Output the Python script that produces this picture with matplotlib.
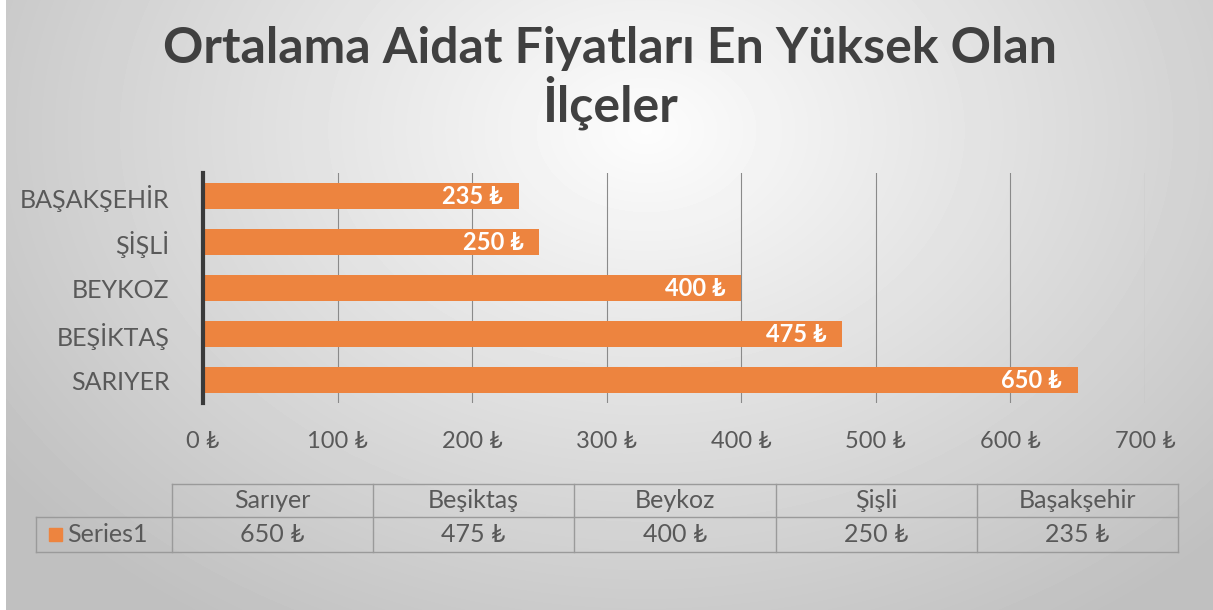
import matplotlib.pyplot as plt
import numpy as np

# Data
districts = ['Sarıyer', 'Beşiktaş', 'Beykoz', 'Şişli', 'Başakşehir']
labels_upper = ['SARIYER', 'BEŞİKTAŞ', 'BEYKOZ', 'ŞİŞLİ', 'BAŞAKŞEHİR']
fees = [650, 475, 400, 250, 235]
series_name = 'Series1'
xticks = [0, 100, 200, 300, 400, 500, 600, 700]

title = 'Ortalama Aidat Fiyatları En Yüksek Olan\nİlçeler'

plt.rcParams['font.family'] = ['Lato', 'DejaVu Sans']
txt = '#595959'
bar_col = '#ED843F'
W, H = 1213, 610

fig = plt.figure(figsize=(W/100, H/100), dpi=100)
fig.patch.set_facecolor('white')

# radial gray background
bg = fig.add_axes([6/W, 0, 1-6/W, 1])
yy, xx = np.mgrid[0:H, 0:W-6]
r = np.sqrt(((xx-640)/700.0)**2 + ((yy-130)/520.0)**2)
shade = np.clip(0.99 - 0.21*r, 0.75, 1.0)
bg.imshow(shade, cmap='gray', vmin=0, vmax=1, aspect='auto')
bg.axis('off')

# Bar chart
ax = fig.add_axes([203/W, 1-403/H, (1145-203)/W, (403-173)/H])
ax.patch.set_alpha(0)
ypos = np.arange(len(fees))
ax.barh(ypos, fees, height=0.57, color=bar_col, zorder=3)
ax.set_xlim(0, 700)
ax.set_ylim(-0.5, 4.5)
ax.set_xticks(xticks)
ax.set_xticklabels([f'{v} ₺' for v in xticks], fontsize=17, color=txt)
ax.set_yticks(ypos)
ax.set_yticklabels(labels_upper, fontsize=18, color=txt)
ax.grid(axis='x', color='#8A8A8A', linewidth=0.8, zorder=1)
for s in ['top', 'right', 'bottom']:
    ax.spines[s].set_visible(False)
ax.spines['left'].set_color('#3A3A3A')
ax.spines['left'].set_linewidth(3)
ax.spines['left'].set_zorder(4)
ax.tick_params(axis='x', length=0, pad=20)
ax.tick_params(axis='y', length=0, pad=24)

for y, v in zip(ypos, fees):
    ax.text(v - 12, y, f'{v} ₺', ha='right', va='center', color='white',
            fontsize=17, fontweight='bold', zorder=5)

fig.text(610/W, 1-78/H, title, ha='center', va='center', fontsize=36,
         fontweight='bold', color='#404040', linespacing=1.1)

# Data table
tb = fig.add_axes([0, 0, 1, 1])
tb.set_xlim(0, W)
tb.set_ylim(H, 0)
tb.axis('off')
cols = [172, 373, 574, 776, 977, 1178]
top, mid, bot = 484, 517, 552
left = 36
lc = '#9A9A9A'
tb.plot([cols[0], cols[-1]], [top, top], color=lc, lw=1)
tb.plot([left, cols[-1]], [mid, mid], color=lc, lw=1)
tb.plot([left, cols[-1]], [bot, bot], color=lc, lw=1)
tb.plot([left, left], [mid, bot], color=lc, lw=1)
for c in cols:
    tb.plot([c, c], [top, bot], color=lc, lw=1)
for i, (name, v) in enumerate(zip(districts, fees)):
    cx = (cols[i] + cols[i+1]) / 2
    tb.text(cx, (top+mid)/2, name, ha='center', va='center', fontsize=18, color=txt)
    tb.text(cx, (mid+bot)/2, f'{v} ₺', ha='center', va='center', fontsize=18, color=txt)
tb.add_patch(plt.Rectangle((49, 528), 13, 13, color=bar_col))
tb.text(67, (mid+bot)/2, series_name, ha='left', va='center', fontsize=18, color=txt)

fig.savefig('out.png', dpi=100)
